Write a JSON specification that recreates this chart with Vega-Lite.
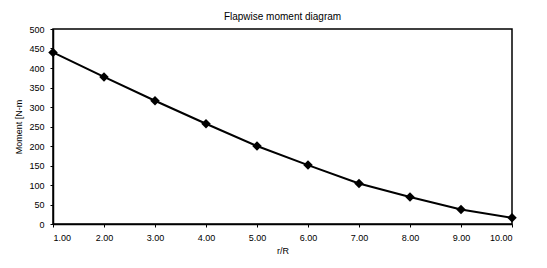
{
  "$schema": "https://vega.github.io/schema/vega-lite/v6.json",
  "autosize": "none",
  "padding": {"left": 53, "top": 29, "right": 35, "bottom": 44},
  "width": 459,
  "height": 195,
  "background": "white",
  "title": {"text": "Flapwise moment diagram", "font": "Liberation Sans", "fontSize": 10, "fontWeight": "normal", "color": "black", "offset": 3, "anchor": "middle"},
  "data": {"values": [
    {"r": 1, "m": 440}, {"r": 2, "m": 377}, {"r": 3, "m": 316}, {"r": 4, "m": 257},
    {"r": 5, "m": 200}, {"r": 6, "m": 151}, {"r": 7, "m": 104}, {"r": 8, "m": 69},
    {"r": 9, "m": 37}, {"r": 10, "m": 16}
  ]},
  "encoding": {
    "x": {"field": "r", "type": "quantitative", "scale": {"domain": [1, 10], "nice": false},
      "axis": {"title": "r/R", "format": ".2f", "values": [1,2,3,4,5,6,7,8,9,10], "grid": false, "tickSize": 3, "labelPadding": 6, "titlePadding": 4}},
    "y": {"field": "m", "type": "quantitative", "scale": {"domain": [0, 500]},
      "axis": {"title": "Moment [N-m", "values": [0,50,100,150,200,250,300,350,400,450,500], "grid": false, "tickSize": 3, "labelPadding": 6, "titlePadding": 5}}
  },
  "layer": [
    {"mark": {"type": "line", "color": "black", "strokeWidth": 2}},
    {"mark": {"type": "point", "shape": "diamond", "filled": true, "color": "black", "size": 90, "opacity": 1}}
  ],
  "config": {
    "view": {"stroke": "black", "strokeWidth": 1.5},
    "axis": {"labelFont": "Liberation Sans", "titleFont": "Liberation Sans", "labelFontSize": 9, "titleFontSize": 9, "titleFontWeight": "normal", "labelColor": "black", "titleColor": "black", "domainColor": "black", "tickColor": "black", "domainWidth": 1.5}
  }
}
